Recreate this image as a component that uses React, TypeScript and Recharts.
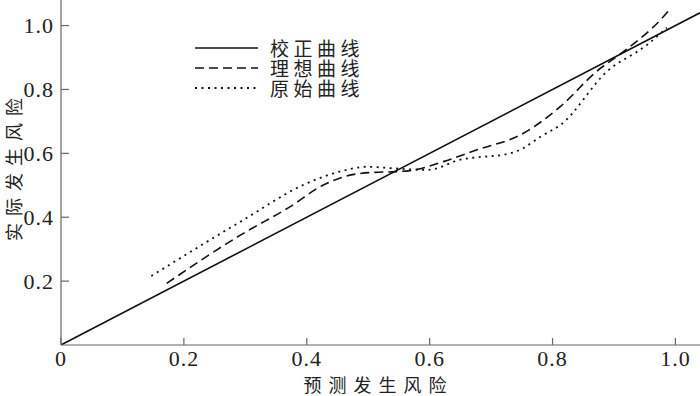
import { LineChart, Line, XAxis, YAxis, Legend } from 'recharts';

// 校正曲线: the diagonal
const calibX = [0, 1.04];
const calibY = [0, 1.04];

// 理想曲线
const idealX = [0.172, 0.292, 0.373, 0.427, 0.487, 0.568, 0.622, 0.677, 0.748, 0.813, 0.872, 0.916, 0.981, 0.993];
const idealY = [0.193, 0.344, 0.433, 0.501, 0.537, 0.546, 0.574, 0.611, 0.658, 0.747, 0.857, 0.919, 1.029, 1.056];

// 原始曲线
const rawX = [0.147, 0.292, 0.4, 0.454, 0.498, 0.541, 0.596, 0.65, 0.731, 0.752, 0.781, 0.813, 0.889, 0.954, 0.986];
const rawY = [0.216, 0.386, 0.506, 0.543, 0.558, 0.553, 0.548, 0.58, 0.6, 0.616, 0.653, 0.689, 0.857, 0.94, 0.993];

const xTicks = [0, 0.2, 0.4, 0.6, 0.8, 1.0];
const yTicks = [0.2, 0.4, 0.6, 0.8, 1.0];

const toPoints = (xs: number[], ys: number[]) => xs.map((x, i) => ({ x, y: ys[i] }));

const series = [
  { name: '校正曲线', data: toPoints(calibX, calibY), dash: undefined, width: 1.6, curve: 'linear' as const },
  { name: '理想曲线', data: toPoints(idealX, idealY), dash: '9 5', width: 1.6, curve: 'monotone' as const },
  { name: '原始曲线', data: toPoints(rawX, rawY), dash: '2 4.5', width: 1.8, curve: 'monotone' as const },
];

const AXIS = '#666';
const INK = '#111';
const NUM_FONT = '"Liberation Serif", "Times New Roman", serif';
const CJK_FONT = '"Noto Sans CJK SC", sans-serif';

const XTick = ({ x, y, payload }: any) => (
  <g>
    <line x1={x} x2={x} y1={y} y2={y - 7} stroke={AXIS} strokeWidth={1.2} />
    <text x={x} y={y + 21} textAnchor="middle" fontFamily={NUM_FONT} fontSize={22} letterSpacing={1} fill="#222">
      {payload.value === 0 ? '0' : payload.value.toFixed(1)}
    </text>
  </g>
);

const YTick = ({ x, y, payload }: any) => (
  <g>
    <line x1={x} x2={x + 8} y1={y} y2={y} stroke={AXIS} strokeWidth={1.2} />
    <text x={x - 7} y={y + 7.5} textAnchor="end" fontFamily={NUM_FONT} fontSize={22} letterSpacing={1} fill="#222">
      {payload.value.toFixed(1)}
    </text>
  </g>
);

const XTitle = ({ viewBox }: any) => (
  <text
    x={viewBox.x + viewBox.width / 2 - 2}
    y={viewBox.y + 47}
    textAnchor="middle"
    fontFamily={CJK_FONT}
    fontSize={18}
    letterSpacing={7}
    fill="#222"
  >
    预测发生风险
  </text>
);

const YTitle = ({ viewBox }: any) => (
  <text
    transform={`translate(${viewBox.x + 21},${viewBox.y + 166}) rotate(-90)`}
    textAnchor="middle"
    fontFamily={CJK_FONT}
    fontSize={18}
    letterSpacing={7}
    fill="#222"
  >
    实际发生风险
  </text>
);

const LegendBox = () => (
  <div style={{ fontFamily: CJK_FONT, fontSize: 19, color: '#222', lineHeight: '20px' }}>
    {series.map((s) => (
      <div key={s.name} style={{ display: 'flex', alignItems: 'center', height: 20 }}>
        <svg width={64} height={20} style={{ marginRight: 11 }}>
          <line x1={0} x2={63} y1={10} y2={10} stroke={INK} strokeWidth={s.width} strokeDasharray={s.dash} />
        </svg>
        <span style={{ letterSpacing: 4.5 }}>{s.name}</span>
      </div>
    ))}
  </div>
);

export default function App() {
  return (
    <div style={{ position: 'absolute', left: 0, top: 0, width: 700, height: 396, background: '#fff' }}>
      <LineChart width={700} height={396} margin={{ top: 0, right: 0, left: 0, bottom: 0 }}>
        <XAxis
          type="number"
          dataKey="x"
          domain={[0, 1.04]}
          ticks={xTicks}
          allowDataOverflow
          height={51}
          stroke={AXIS}
          strokeWidth={1.2}
          tickLine={false}
          tickSize={0}
          tickMargin={0}
          tick={<XTick />}
          label={<XTitle />}
        />
        <YAxis
          type="number"
          dataKey="y"
          domain={[0, 1.08]}
          ticks={yTicks}
          allowDataOverflow
          width={61}
          stroke={AXIS}
          strokeWidth={1.2}
          tickLine={false}
          tickSize={0}
          tickMargin={0}
          tick={<YTick />}
          label={<YTitle />}
        />
        <Legend
          layout="vertical"
          align="center"
          verticalAlign="middle"
          content={<LegendBox />}
          wrapperStyle={{ position: 'absolute', left: 195, top: 38, width: 200 }}
        />
        {series.map((s) => (
          <Line
            key={s.name}
            name={s.name}
            data={s.data}
            dataKey="y"
            type={s.curve}
            stroke={INK}
            strokeWidth={s.width}
            strokeDasharray={s.dash}
            dot={false}
            activeDot={false}
            isAnimationActive={false}
          />
        ))}
      </LineChart>
    </div>
  );
}
